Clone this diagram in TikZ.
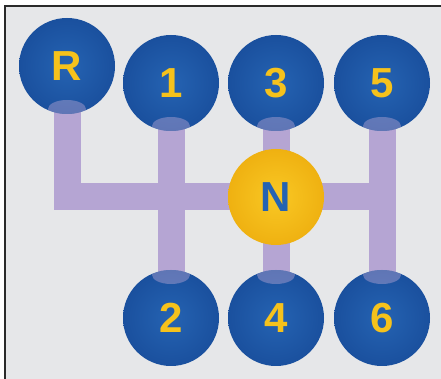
\documentclass[tikz,border=0pt]{standalone}
\usepackage{fontspec}
\setmainfont{Liberation Sans}
\usetikzlibrary{calc}

\pgfdeclarelayer{back}
\pgfdeclarelayer{rails}
\pgfsetlayers{back,rails,main}

\definecolor{framegrey}{HTML}{E6E7E9}
\definecolor{framedark}{HTML}{2A2A2A}
\definecolor{railcolor}{HTML}{B5A5D3}
\definecolor{ballmid}{HTML}{2563B2}
\definecolor{balledge}{HTML}{1A509E}
\definecolor{gearyellow}{HTML}{F6C21C}
\definecolor{nmid}{HTML}{F9C824}
\definecolor{nedge}{HTML}{EFB111}

\begin{document}
\begin{tikzpicture}[
  x=1pt, y=1pt,
  gear/.style={circle, inner sep=0pt, minimum size=96pt, inner color=ballmid, outer color=balledge,
    text=gearyellow, font=\fontsize{42}{42}\selectfont\bfseries},
  glint/.style={fill=railcolor, opacity=0.45},
  uppergear/.style={gear, path picture={\fill[glint] ([yshift=-43pt]path picture bounding box.center) ellipse (19pt and 9pt);}},
  lowergear/.style={gear, path picture={\fill[glint] ([yshift=43pt]path picture bounding box.center) ellipse (19pt and 9pt);}},
  neutral/.style={gear, inner color=nmid, outer color=nedge, text=ballmid},
  rail/.style={draw=railcolor, line width=27pt}
]
  \useasboundingbox (0,0) rectangle (441,379);

  % frame
  \begin{pgfonlayer}{back}
    \fill[framegrey] (5,0) rectangle (441,373);
    \draw[framedark, line width=2pt] (5,0) -- (5,373) -- (441,373);
  \end{pgfonlayer}

  % knobs, upper row
  \node[uppergear] (R) at (67,313) {R};
  \node[uppergear] (g1) at (171,296) {1};
  \node[uppergear] (g3) at (276,296) {3};
  \node[uppergear] (g5) at (382,296) {5};

  % neutral
  \node[neutral] (N) at (276,182) {N};

  % knobs, lower row
  \node[lowergear] (g2) at (171,61) {2};
  \node[lowergear] (g4) at (276,61) {4};
  \node[lowergear] (g6) at (382,61) {6};

  % gates
  \begin{pgfonlayer}{rails}
    \draw[rail] (R.center) |- (N.center) -- (N.center -| g5.center);
    \draw[rail] (g1.center) -- (g2.center);
    \draw[rail] (g3.center) -- (N.center) -- (g4.center);
    \draw[rail] (g5.center) -- (g6.center);
  \end{pgfonlayer}
\end{tikzpicture}
\end{document}
